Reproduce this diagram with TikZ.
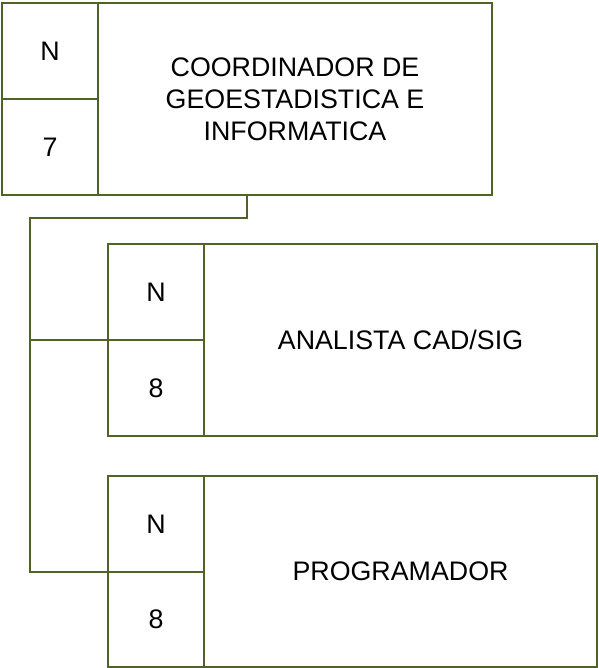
\documentclass[tikz,border=0pt]{standalone}
\usepackage{fontspec}
\setmainfont{Liberation Sans}
\definecolor{olive}{RGB}{79,98,40}
\begin{document}
\begin{tikzpicture}[x=1pt,y=-1pt,
  box/.style={draw=olive,line width=2pt,rectangle,inner sep=0pt,outer sep=0pt,
    font=\fontsize{26.8}{32}\selectfont,align=center,text=black},
  link/.style={draw=olive,line width=2pt}]
\useasboundingbox (0,0) rectangle (598,668);
% top (group anchor, not drawn)
\node[box,draw=none,minimum width=490pt,minimum height=192pt] (top) at (247,98) {};
\node[box,minimum width=96pt,minimum height=96pt] (n1) at (50,51) {N};
\node[box,minimum width=96pt,minimum height=96pt] (v1) at (50,147) {7};
\node[box,minimum width=394pt,minimum height=192pt] (t1) at (295,99) {COORDINADOR DE\\GEOESTADISTICA E\\INFORMATICA};
% analyst
\node[box,minimum width=96pt,minimum height=96pt] (n2) at (156,292) {N};
\node[box,minimum width=96pt,minimum height=96pt] (v2) at (156,388) {8};
\node[box,minimum width=393pt,minimum height=192pt] (t2) at (400.5,340) {ANALISTA CAD/SIG};
% programmer
\node[box,minimum width=96pt,minimum height=96pt] (n3) at (156,524) {N};
\node[box,minimum width=96pt,minimum height=95pt] (v3) at (156,619.5) {8};
\node[box,minimum width=393pt,minimum height=191pt] (t3) at (400.5,571.5) {PROGRAMADOR};
% connectors
\coordinate (bend) at (30,218);
\draw[link] (top.south) |- (bend) |- (n3.south west);
\draw[link] (bend) |- (n2.south west);
\end{tikzpicture}
\end{document}
